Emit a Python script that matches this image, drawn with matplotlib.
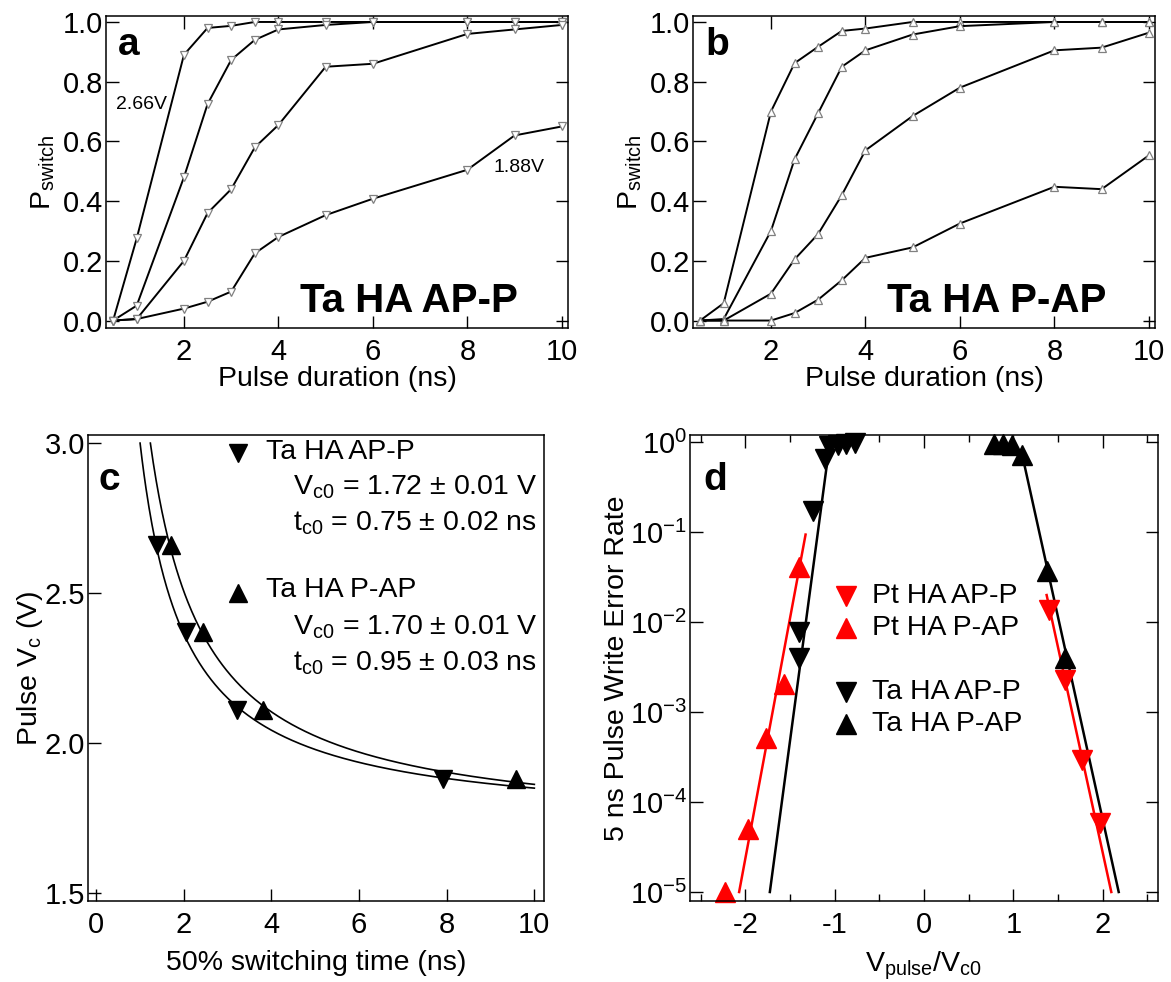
import numpy as np
import matplotlib
matplotlib.use("Agg")
import matplotlib.pyplot as plt

plt.rcParams['font.family'] = ['Liberation Sans', 'DejaVu Sans']
plt.rcParams['mathtext.fontset'] = 'custom'
plt.rcParams['mathtext.rm'] = 'Liberation Sans'
plt.rcParams['mathtext.it'] = 'Liberation Sans:italic'
plt.rcParams['mathtext.bf'] = 'Liberation Sans:bold'
plt.rcParams['axes.unicode_minus'] = False

# ---------------- data ----------------
pulse_ns = [0.5, 1, 2, 2.5, 3, 3.5, 4, 5, 6, 8, 9, 10]

# panel a: Ta HA AP-P switching probability (2.66 V ... 1.88 V)
a_curve1 = [0.0, 0.275, 0.89, 0.98, 0.987, 1.0, 1.0, 1.0, 1.0, 1.0, 1.0, 1.0]
a_curve2 = [0.0, 0.05, 0.48, 0.725, 0.873, 0.94, 0.975, 0.99, 1.0, 1.0, 1.0, 1.0]
a_curve3 = [0.0, 0.005, 0.20, 0.36, 0.44, 0.58, 0.655, 0.85, 0.86, 0.96, 0.975, 0.99]
a_curve4 = [0.0, 0.005, 0.04, 0.063, 0.097, 0.225, 0.28, 0.353, 0.408, 0.505, 0.62, 0.65]

# panel b: Ta HA P-AP switching probability
b_curve1 = [0.0, 0.058, 0.70, 0.862, 0.917, 0.97, 0.978, 1.0, 1.0, 1.0, 1.0, 1.0]
b_curve2 = [0.0, 0.005, 0.30, 0.54, 0.695, 0.85, 0.905, 0.958, 0.986, 1.0, 1.0, 1.0]
b_curve3 = [0.0, 0.0, 0.09, 0.205, 0.29, 0.42, 0.57, 0.685, 0.78, 0.905, 0.914, 0.964]
b_curve4 = [0.0, 0.0, 0.0, 0.025, 0.07, 0.135, 0.21, 0.245, 0.325, 0.448, 0.44, 0.553]

# panel c: 50% switching time vs pulse voltage
c_t50_apP = [1.40, 2.05, 3.22, 7.91]
c_v_apP = [2.66, 2.37, 2.11, 1.88]
c_t50_pAP = [1.71, 2.45, 3.80, 9.59]
c_v_pAP = [2.66, 2.37, 2.11, 1.88]
fit_vc0_apP, fit_tc0_apP = 1.72, 0.75
fit_vc0_pAP, fit_tc0_pAP = 1.70, 0.95

# panel d: 5 ns write error rate vs Vpulse/Vc0
pt_apP_x = [1.40, 1.58, 1.77, 1.97]
pt_apP_y = [1.36e-2, 2.25e-3, 2.96e-4, 5.9e-5]
pt_pAP_x = [-1.40, -1.566, -1.768, -1.975, -2.227]
pt_pAP_y = [4.1e-2, 2.05e-3, 5.15e-4, 5.0e-5, 1.0e-5]
ta_apP_x = [-0.77, -0.87, -0.96, -1.06, -1.112, -1.242, -1.398, -1.398]
ta_apP_y = [0.97, 0.95, 0.93, 0.90, 0.65, 0.174, 7.7e-3, 4.0e-3]
ta_pAP_x = [0.78, 0.88, 0.99, 1.10, 1.381, 1.583]
ta_pAP_y = [0.95, 0.95, 0.93, 0.72, 3.7e-2, 4.0e-3]
# fitted lines (end points)
fit_pt_apP_x = [1.373, 2.097]
fit_pt_apP_y = [2.0e-2, 1.0e-5]
fit_pt_pAP_x = [-1.326, -2.07]
fit_pt_pAP_y = [9.4e-2, 1.0e-5]
fit_ta_apP_x = [-1.06, -1.726]
fit_ta_apP_y = [0.90, 1.0e-5]
fit_ta_pAP_x = [1.10, 2.18]
fit_ta_pAP_y = [0.72, 1.0e-5]

# ---------------- figure ----------------
W, H = 1171, 982
fig = plt.figure(figsize=(W / 100, H / 100), dpi=100)


def box(l, t, r, b):
    return [l / W, 1 - b / H, (r - l) / W, (b - t) / H]


TICK_FS = 21
LAB_FS = 20.5


def style(ax, mirror=True):
    for s in ax.spines.values():
        s.set_linewidth(1.1)
    ax.tick_params(which='major', direction='in', length=9, width=1.0,
                   labelsize=TICK_FS, top=mirror, right=mirror)
    ax.tick_params(axis='x', which='both', pad=7)
    ax.tick_params(axis='y', which='both', pad=2)


# ---- panel a / b ----
for pos, curves, mk, title, letter in [
        (box(106, 16, 568, 328), [a_curve1, a_curve2, a_curve3, a_curve4], 'v', 'Ta HA AP-P', 'a'),
        (box(693, 16, 1155, 328), [b_curve1, b_curve2, b_curve3, b_curve4], '^', 'Ta HA P-AP', 'b')]:
    ax = fig.add_axes(pos)
    for cv in curves:
        ax.plot(pulse_ns, cv, color='black', lw=1.4, marker=mk, ms=6,
                mfc='white', mec='#808080', mew=0.9, clip_on=False, zorder=3)
    ax.set_xlim(0.35, 10.13)
    ax.set_ylim(-0.025, 1.02)
    ax.set_xticks([2, 4, 6, 8, 10])
    ax.set_yticks([0.0, 0.2, 0.4, 0.6, 0.8, 1.0])
    ax.set_yticklabels(['0.0', '0.2', '0.4', '0.6', '0.8', '1.0'])
    style(ax)
    ax.set_xlabel('Pulse duration (ns)', fontsize=LAB_FS, labelpad=0)
    ax.set_ylabel(r'P$_{\mathrm{switch}}$', fontsize=LAB_FS, labelpad=4)
    ax.text(0.026, 0.875, letter, transform=ax.transAxes, fontsize=28,
            fontweight='bold', ha='left', va='baseline')
    ax.text(0.42, 0.051, title, transform=ax.transAxes, fontsize=29,
            fontweight='bold', ha='left', va='baseline')
    if letter == 'a':
        ax.text(0.56, 0.709, '2.66V', fontsize=14, ha='left', va='baseline')
        ax.text(8.55, 0.499, '1.88V', fontsize=14, ha='left', va='baseline')

# ---- panel c ----
axc = fig.add_axes(box(88, 435, 544, 901))
for vc0, tc0 in [(fit_vc0_apP, fit_tc0_apP), (fit_vc0_pAP, fit_tc0_pAP)]:
    t_start = tc0 / (3.0 / vc0 - 1.0)
    tt = np.linspace(t_start, 10, 400)
    axc.plot(tt, vc0 * (1 + tc0 / tt), color='black', lw=1.2)
axc.plot(c_t50_apP, c_v_apP, 'v', color='black', ms=13, ls='none')
axc.plot(c_t50_pAP, c_v_pAP, '^', color='black', ms=13, ls='none')
axc.set_xlim(-0.18, 10.22)
axc.set_ylim(1.4725, 3.027)
axc.set_xticks([0, 2, 4, 6, 8, 10])
axc.set_yticks([1.5, 2.0, 2.5, 3.0])
axc.set_yticklabels(['1.5', '2.0', '2.5', '3.0'])
style(axc, mirror=False)
axc.set_xlabel('50% switching time (ns)', fontsize=LAB_FS, labelpad=8)
axc.set_ylabel(r'Pulse V$_{\mathrm{c}}$ (V)', fontsize=LAB_FS, labelpad=0)
axc.text(0.022, 0.882, 'c', transform=axc.transAxes, fontsize=28,
         fontweight='bold', ha='left', va='baseline')
axc.plot([0.329], [0.961], 'v', color='black', ms=13, transform=axc.transAxes, clip_on=False)
axc.plot([0.329], [0.661], '^', color='black', ms=13, transform=axc.transAxes, clip_on=False)
cl = [(0.390, 0.963, 'Ta HA AP-P'),
      (0.4496, 0.888, r'V$_{\mathrm{c0}}$ = %.2f ± 0.01 V' % fit_vc0_apP),
      (0.4496, 0.811, r't$_{\mathrm{c0}}$ = %.2f ± 0.02 ns' % fit_tc0_apP),
      (0.390, 0.667, 'Ta HA P-AP'),
      (0.4496, 0.588, r'V$_{\mathrm{c0}}$ = %.2f ± 0.01 V' % fit_vc0_pAP),
      (0.4496, 0.511, r't$_{\mathrm{c0}}$ = %.2f ± 0.03 ns' % fit_tc0_pAP)]
for x, y, s in cl:
    axc.text(x, y, s, transform=axc.transAxes, fontsize=LAB_FS, ha='left', va='center')

# ---- panel d ----
axd = fig.add_axes(box(690, 435, 1158, 901))
axd.set_yscale('log')
axd.plot(fit_pt_apP_x, fit_pt_apP_y, color='red', lw=1.8)
axd.plot(fit_pt_pAP_x, fit_pt_pAP_y, color='red', lw=1.8)
axd.plot(fit_ta_apP_x, fit_ta_apP_y, color='black', lw=1.8)
axd.plot(fit_ta_pAP_x, fit_ta_pAP_y, color='black', lw=1.8)
axd.plot(pt_apP_x, pt_apP_y, 'v', color='red', ms=14, ls='none', clip_on=False)
axd.plot(pt_pAP_x, pt_pAP_y, '^', color='red', ms=14, ls='none', clip_on=False)
axd.plot(ta_apP_x, ta_apP_y, 'v', color='black', ms=14, ls='none', clip_on=False)
axd.plot(ta_pAP_x, ta_pAP_y, '^', color='black', ms=14, ls='none', clip_on=False)
axd.set_xlim(-2.62, 2.62)
axd.set_ylim(10 ** -5.1, 10 ** 0.08)
axd.set_xticks([-2, -1, 0, 1, 2])
axd.set_xticklabels(['-2', '-1', '0', '1', '2'])
axd.set_xticks([-2.5, -1.5, -0.5, 0.5, 1.5, 2.5], minor=True)
axd.set_yticks([1e-5, 1e-4, 1e-3, 1e-2, 1e-1, 1e0])
axd.set_yticks([], minor=True)
style(axd)
axd.tick_params(which='minor', direction='in', length=5, width=1.0, top=True, right=True)
axd.set_xlabel(r'V$_{\mathrm{pulse}}$/V$_{\mathrm{c0}}$', fontsize=LAB_FS, labelpad=8)
axd.set_ylabel('5 ns Pulse Write Error Rate', fontsize=LAB_FS, labelpad=0)
axd.text(0.028, 0.882, 'd', transform=axd.transAxes, fontsize=28,
         fontweight='bold', ha='left', va='baseline')
leg = [(0.654, 'v', 'red', 'Pt HA AP-P'), (0.586, '^', 'red', 'Pt HA P-AP'),
       (0.449, 'v', 'black', 'Ta HA AP-P'), (0.380, '^', 'black', 'Ta HA P-AP')]
for y, m, c, s in leg:
    axd.plot([0.333], [y], m, color=c, ms=14, transform=axd.transAxes, clip_on=False)
    axd.text(0.389, y, s, transform=axd.transAxes, fontsize=LAB_FS, ha='left', va='center')

fig.savefig('out.png', dpi=100)
